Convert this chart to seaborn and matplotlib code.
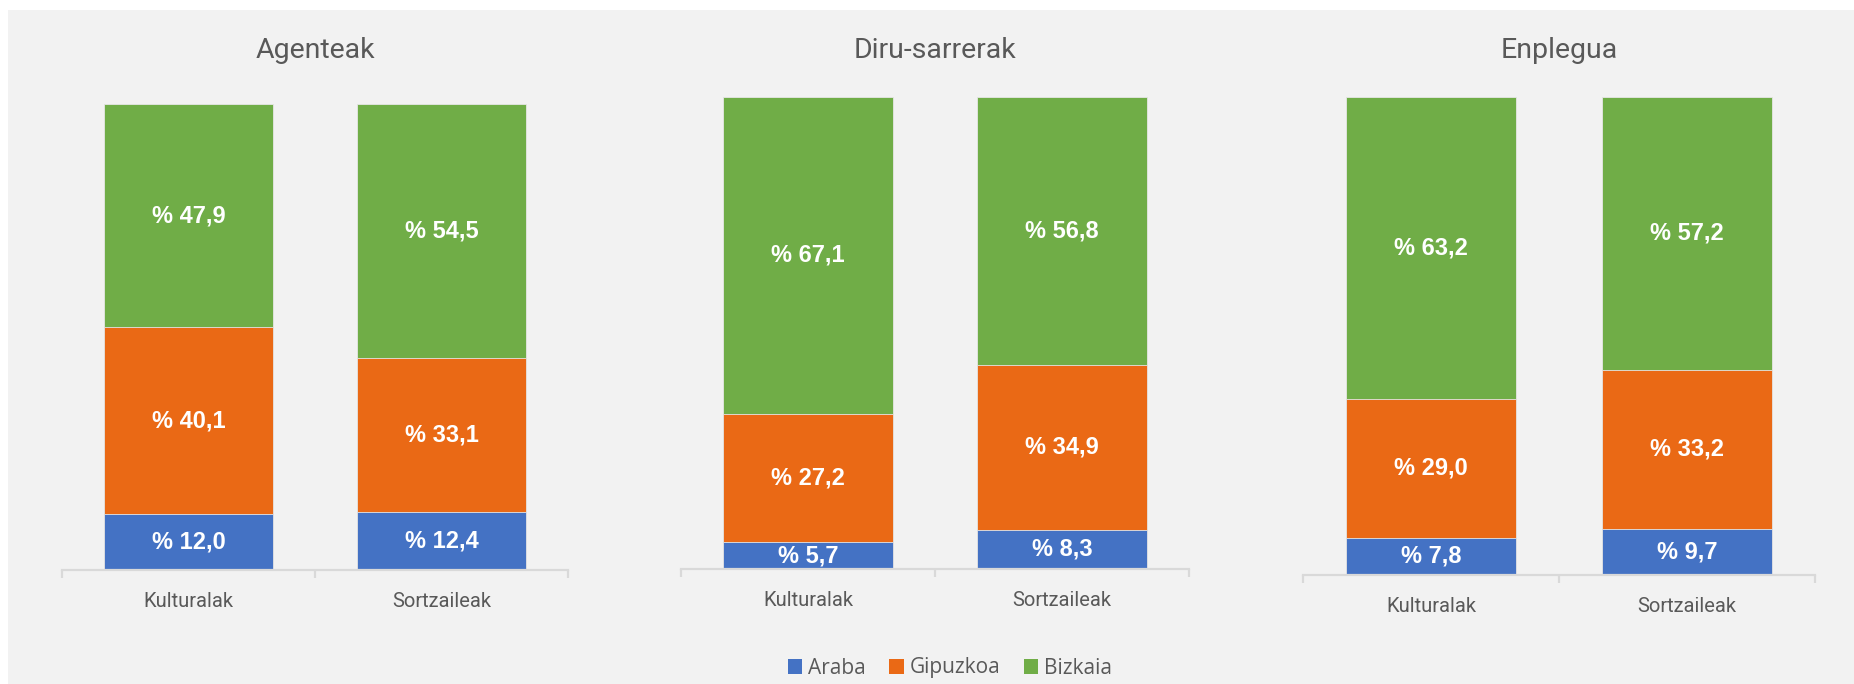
import numpy as np
import pandas as pd
import matplotlib
matplotlib.use('Agg')
import matplotlib.pyplot as plt
from matplotlib.patches import Patch, Rectangle
import seaborn as sns

# data (percent shares)
panels = ['Agenteak', 'Diru-sarrerak', 'Enplegua']
categories = ['Kulturalak', 'Sortzaileak']
series = ['Araba', 'Gipuzkoa', 'Bizkaia']

araba = [[12.0, 12.4], [5.7, 8.3], [7.8, 9.7]]
gipuzkoa = [[40.1, 33.1], [27.2, 34.9], [29.0, 33.2]]
bizkaia = [[47.9, 54.5], [67.1, 56.8], [63.2, 57.2]]

colors = ['#4472C4', '#EA6915', '#70AD47']
bg = '#F2F2F2'
grey_txt = '#595959'
axis_col = '#D9D9D9'

sns.set_theme(style='white')

fig = plt.figure(figsize=(18.54, 6.84), dpi=100, facecolor='white')
W, H = 1854, 684
fig.patches.append(Rectangle((8 / W, 0), 1, 1 - 10 / H, transform=fig.transFigure,
                             facecolor=bg, edgecolor='none', zorder=-10))

# axes boxes in pixels: left, axis y, width, top y
boxes = [(62, 570, 506, 104), (681, 569, 508, 97), (1303, 575, 512, 97)]

for k, name in enumerate(panels):
    left, base, width, top = boxes[k]
    ax = fig.add_axes([left / W, 1 - base / H, width / W, (base - top) / H])
    ax.set_facecolor('none')

    vals = [araba[k], gipuzkoa[k], bizkaia[k]]
    cum = np.cumsum(np.array(vals), axis=0)
    df = pd.DataFrame({'cat': categories})
    # draw the tallest layer first so the lower ones sit on top
    for j in range(2, -1, -1):
        df['v'] = cum[j]
        sns.barplot(data=df, x='cat', y='v', order=categories, color=colors[j],
                    saturation=1, width=0.667, edgecolor='#e6e6e6', linewidth=0.6,
                    ax=ax)

    for j in range(3):
        for i in range(2):
            v = vals[j][i]
            bottom = cum[j][i] - v
            lab = ('% ' + f'{v:.1f}').replace('.', ',')
            ax.text(i, bottom + v / 2, lab, ha='center', va='center', color='white',
                    fontsize=17, fontweight='bold', family='Liberation Sans')

    ax.set_xlim(-0.5, 1.5)
    ax.set_ylim(0, 100)
    ax.set_xlabel('')
    ax.set_ylabel('')
    ax.set_yticks([])
    for s in ['top', 'left', 'right']:
        ax.spines[s].set_visible(False)
    ax.spines['bottom'].set_color(axis_col)
    ax.spines['bottom'].set_linewidth(1.6)
    ax.set_xticks([0, 1])
    ax.set_xticklabels(categories, fontsize=14.5, color=grey_txt, family='Roboto')
    ax.set_xticks([-0.5, 0.5, 1.5], minor=True)
    ax.tick_params(axis='x', which='major', length=0, pad=16)
    ax.tick_params(axis='x', which='minor', length=6, width=1.6, color=axis_col,
                   direction='out', bottom=True)

    fig.text((left + width / 2) / W, 1 - 58 / H, name, ha='center', va='baseline',
             fontsize=20.5, color=grey_txt, family='Roboto')

handles = [Patch(facecolor=c, edgecolor='none') for c in colors]
leg = fig.legend(handles, series, loc='center', bbox_to_anchor=(950 / W, 1 - 668 / H),
                 ncol=3, frameon=False, handlelength=0.7, handleheight=0.7,
                 handletextpad=0.3, columnspacing=1.1,
                 prop={'family': 'Open Sans', 'size': 15})
for t in leg.get_texts():
    t.set_color(grey_txt)

fig.savefig('out.png', dpi=100, facecolor='white')
